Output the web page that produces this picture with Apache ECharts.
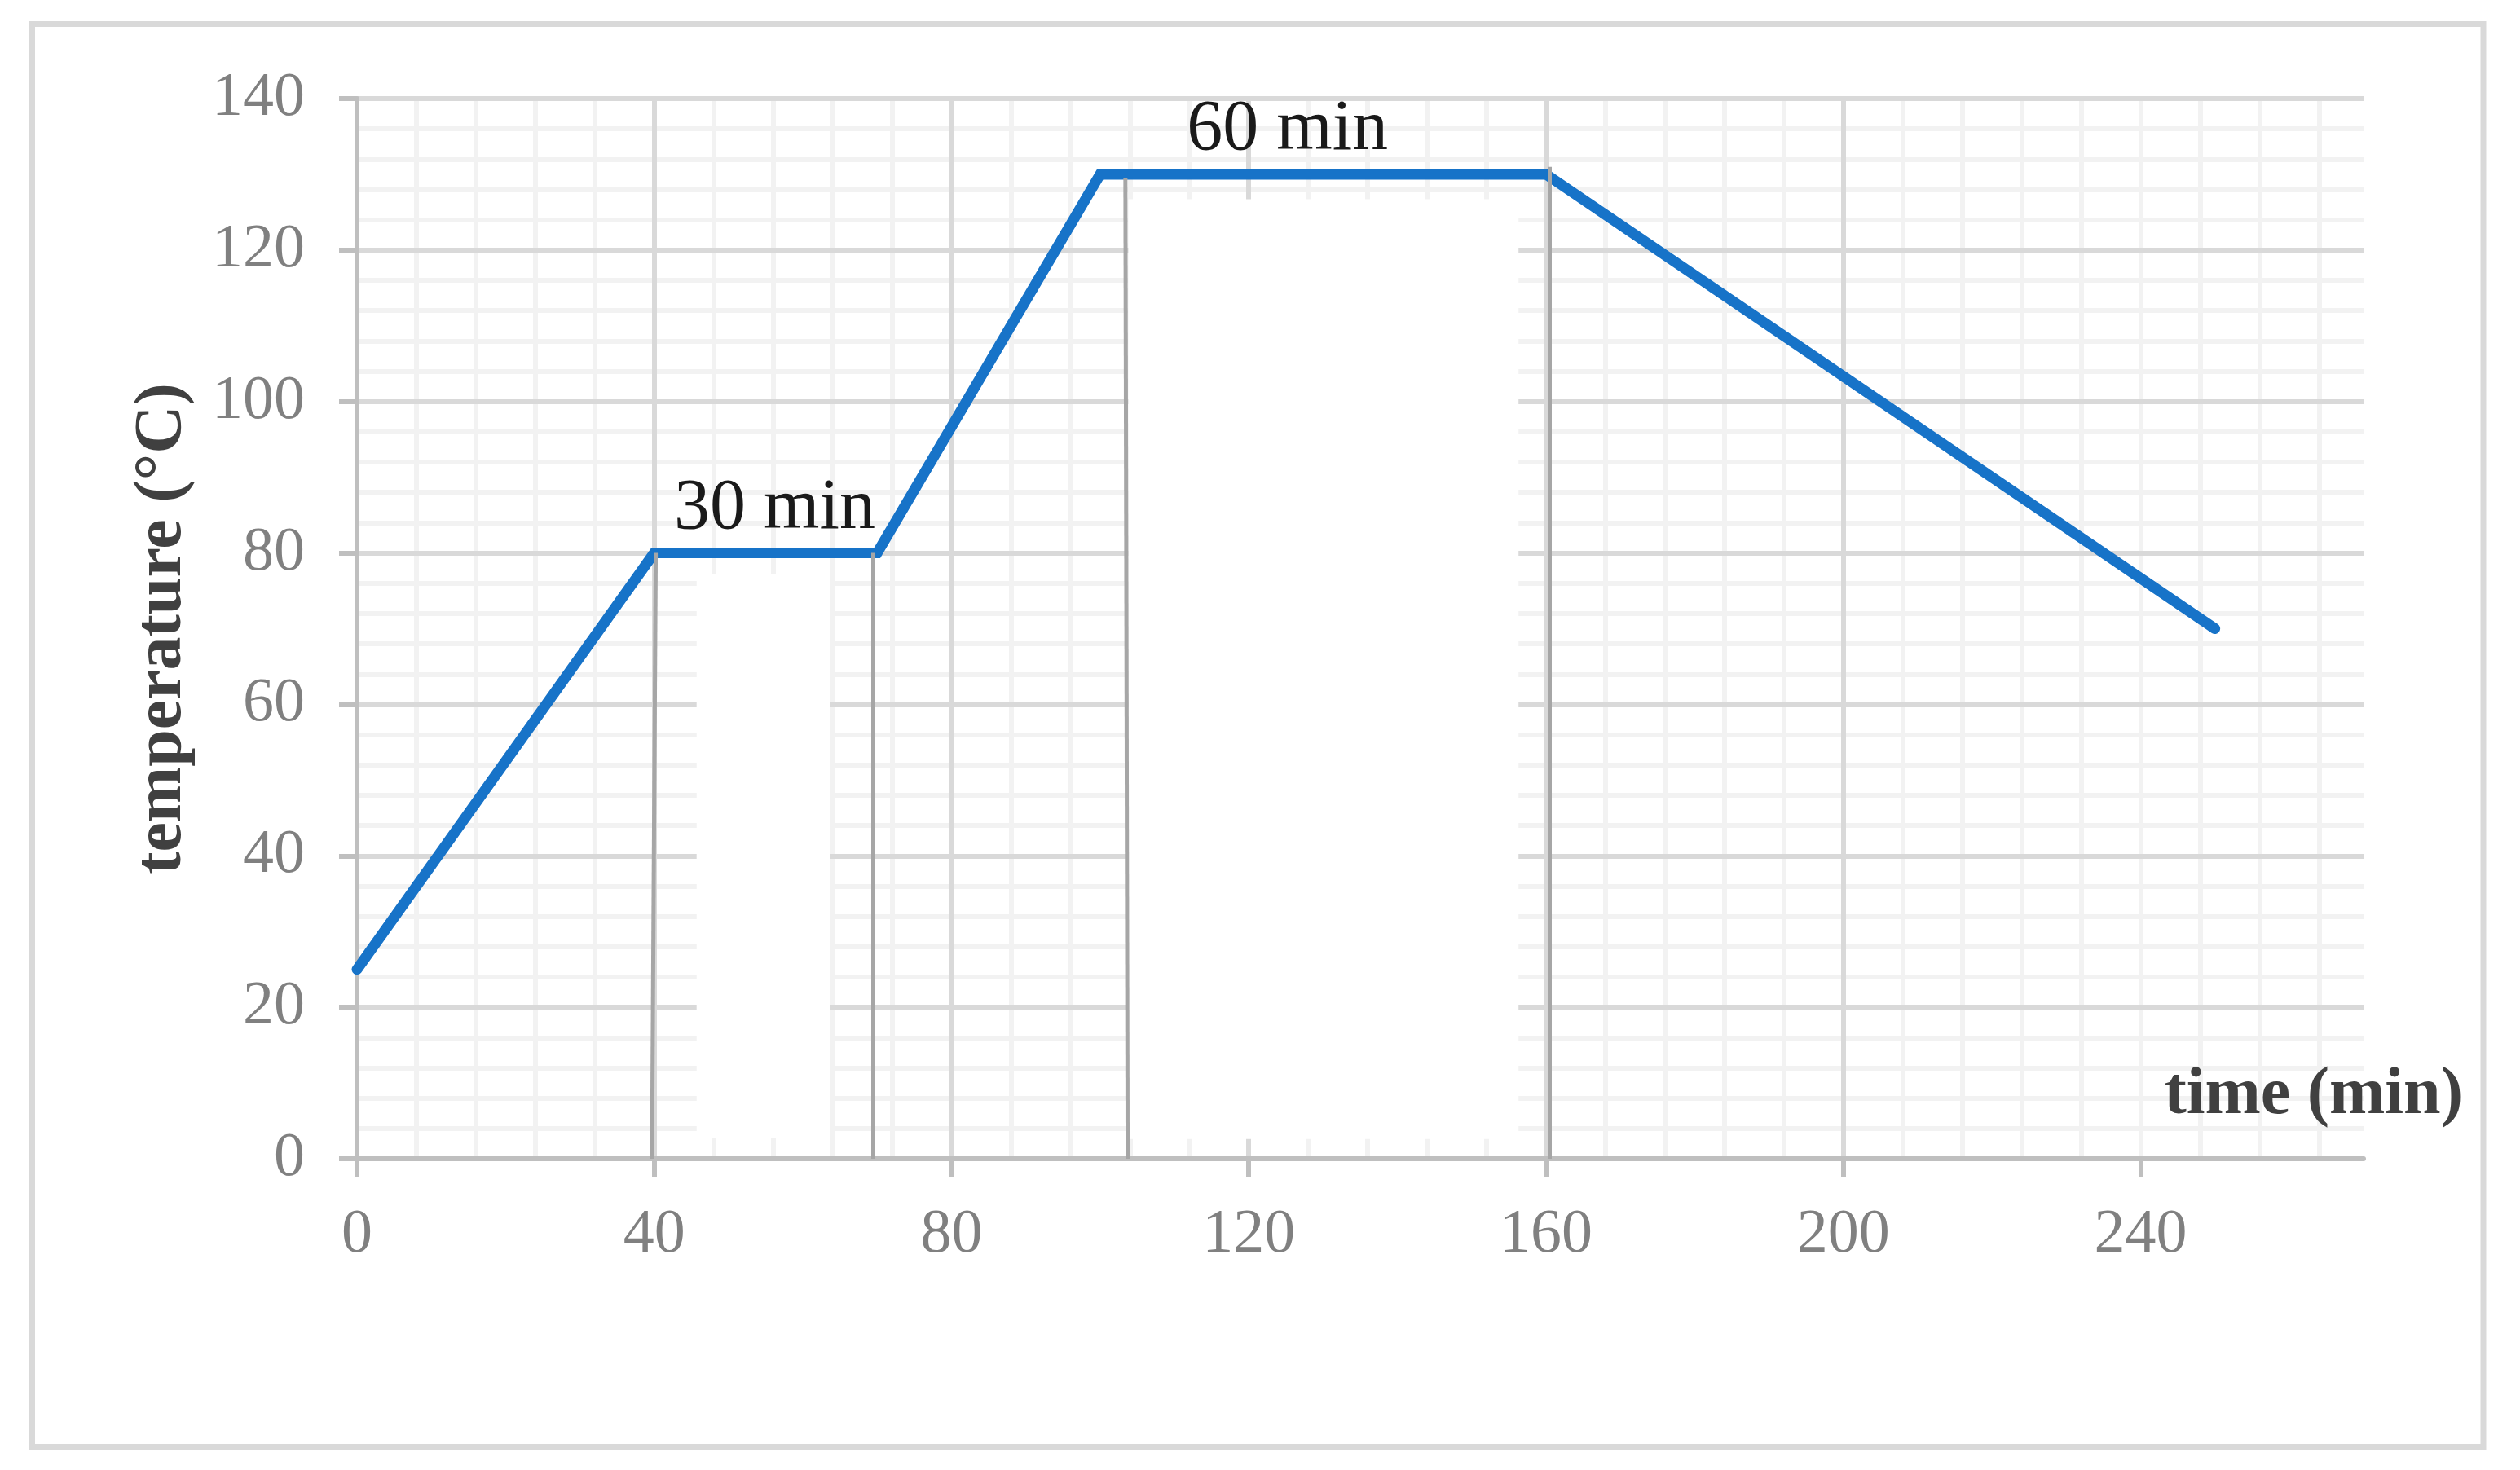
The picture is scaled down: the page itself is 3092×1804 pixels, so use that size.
<!DOCTYPE html>
<html>
<head>
<meta charset="utf-8">
<script src="https://cdn.jsdelivr.net/npm/echarts@6/dist/echarts.min.js"></script>
<style>
  html, body { margin: 0; padding: 0; background: #fff; }
  #main { width: 3092px; height: 1804px; }
</style>
</head>
<body>
<div id="main"></div>
<script>
  var myChart = echarts.init(document.getElementById('main'));

  // temperature program
  let timeMin = [0, 40, 70, 100, 160, 250],
      tempC   = [25, 80, 80, 130, 130, 70];

  let xTicks = [0, 40, 80, 120, 160, 200, 240];

  // hold annotations
  let holdLabels = ['30 min', '60 min'],
      holdAt     = [[56.2, 80], [125.2, 130]];

  // gray guide lines drawn on the original (start, end)
  let guideLines = [
    [[40.2, 80], [39.7, 0]],
    [[69.4, 80], [69.4, 0]],
    [[103.4, 129.5], [103.7, 0]],
    [[160.5, 131], [160.5, 0]]
  ];

  // blanked-out patches of the grid (top-left, bottom-right)
  let blankAreas = [
    [[45.7, 77.2], [63.7, 2.7]],
    [[103.8, 126.7], [156.3, 2.6]]
  ];

  let serif = 'Liberation Serif';

  let seriesData = timeMin.map(function (t, i) { return [t, tempC[i]]; });

  var option = {
    animation: false,
    backgroundColor: '#fff',
    grid: { left: 438, right: 192, top: 121, bottom: 382, outerBoundsMode: 'none', containLabel: false },
    graphic: [{
      type: 'rect',
      shape: { x: 39.5, y: 29.5, width: 3007.5, height: 1746 },
      style: { fill: null, stroke: '#d9d9d9', lineWidth: 7 },
      silent: true
    }],
    xAxis: [{
      // minor grid
      type: 'value', position: 'bottom', min: 0, max: 270, interval: 8, z: 0,
      axisLine: { show: false }, axisTick: { show: false }, axisLabel: { show: false },
      splitLine: { show: true, showMinLine: false, showMaxLine: false, lineStyle: { color: '#f2f2f2', width: 6 } }
    }, {
      type: 'value', position: 'bottom', min: 0, max: 270, interval: 40, z: 1,
      name: 'time (min)',
      nameLocation: 'end',
      nameGap: 122,
      nameTextStyle: {
        fontFamily: serif, fontWeight: 'bold', fontSize: 82, color: '#404040',
        align: 'right', verticalAlign: 'bottom', padding: [0, 0, 36, 0]
      },
      axisLine: { show: true, onZero: false, lineStyle: { color: '#bfbfbf', width: 6 } },
      axisTick: { show: true, length: 22, customValues: xTicks, lineStyle: { color: '#bfbfbf', width: 6 } },
      axisLabel: { customValues: xTicks, fontFamily: serif, fontSize: 76, color: '#808080', margin: 56 },
      splitLine: { show: true, showMinLine: false, showMaxLine: false, lineStyle: { color: '#d9d9d9', width: 6 } }
    }],
    yAxis: [{
      type: 'value', position: 'left', min: 0, max: 140, interval: 4, z: 0,
      axisLine: { show: false }, axisTick: { show: false }, axisLabel: { show: false },
      splitLine: { show: true, showMinLine: false, lineStyle: { color: '#f2f2f2', width: 6 } }
    }, {
      type: 'value', position: 'left', min: 0, max: 140, interval: 20, z: 1,
      name: 'temperature (°C)',
      nameLocation: 'middle',
      nameGap: 197,
      nameTextStyle: { fontFamily: serif, fontWeight: 'bold', fontSize: 82, color: '#404040' },
      axisLine: { show: true, onZero: false, lineStyle: { color: '#bfbfbf', width: 6 } },
      axisTick: { show: true, length: 22, lineStyle: { color: '#bfbfbf', width: 6 } },
      axisLabel: { fontFamily: serif, fontSize: 76, color: '#808080', margin: 64 },
      splitLine: { show: true, showMinLine: false, showMaxLine: true, lineStyle: { color: '#d9d9d9', width: 6 } }
    }],
    series: [{
      type: 'line', name: 'blank', xAxisIndex: 1, yAxisIndex: 1, z: 2,
      data: [], silent: true,
      markArea: {
        silent: true,
        itemStyle: { color: '#ffffff' },
        data: blankAreas.map(function (a) { return [{ coord: a[0] }, { coord: a[1] }]; })
      }
    }, {
      type: 'line', name: 'temperature', xAxisIndex: 1, yAxisIndex: 1, z: 3,
      data: seriesData,
      symbol: 'none',
      lineStyle: { color: '#1773c8', width: 13, cap: 'round', join: 'miter' },
      itemStyle: { color: '#1773c8' },
      markPoint: {
        symbol: 'circle', symbolSize: 0, silent: true,
        label: {
          show: true, position: 'top', distance: 10, formatter: '{b}',
          fontFamily: serif, fontSize: 88, color: '#1a1a1a'
        },
        data: holdLabels.map(function (t, i) { return { name: t, coord: holdAt[i] }; })
      }
    }, {
      type: 'line', name: 'guides', xAxisIndex: 1, yAxisIndex: 1, z: 4,
      data: [], silent: true,
      markLine: {
        silent: true, symbol: 'none',
        label: { show: false },
        lineStyle: { color: '#a6a6a6', width: 5, type: 'solid' },
        data: guideLines.map(function (g) { return [{ coord: g[0] }, { coord: g[1] }]; })
      }
    }]
  };

  myChart.setOption(option);
</script>
</body>
</html>
